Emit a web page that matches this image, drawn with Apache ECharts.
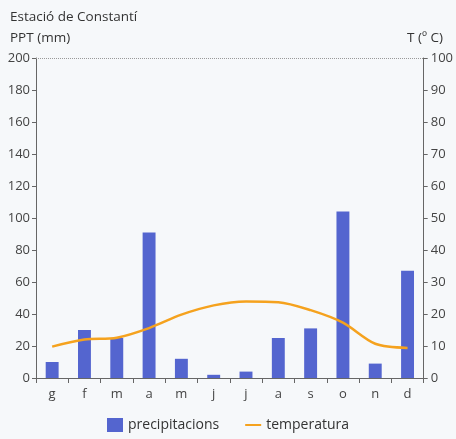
<!DOCTYPE html>
<html><head><meta charset="utf-8">
<script src="https://cdn.jsdelivr.net/npm/echarts@6/dist/echarts.min.js"></script>
<style>html,body{margin:0;padding:0;background:#f6f8fa}#c{width:456px;height:439px}</style>
</head><body><div id="c"></div>
<script>
const months = ['g','f','m','a','m','j','j','a','s','o','n','d'];
const precipitation = [10, 30, 25, 91, 12, 2, 4, 25, 31, 104, 9, 67];
const temperature = [9.8, 12, 12.6, 15.6, 19.8, 22.7, 23.9, 23.7, 21.2, 17.3, 10.7, 9.4];
const pptTicks = [0, 200, 20];
const tempTicks = [0, 100, 10];
const font = '"Open Sans", "Noto Sans", sans-serif';
const chart = echarts.init(document.getElementById('c'));
chart.setOption({
  backgroundColor: '#f6f8fa',
  animation: false,
  textStyle: {fontFamily: font},
  title: [
    {text: 'Estació de Constantí', left: 5, top: 5, textStyle: {fontSize: 13.5, fontWeight: 'normal', color: '#333', fontFamily: font}},
    {text: 'PPT (mm)', left: 5, top: 26, textStyle: {fontSize: 13.5, fontWeight: 'normal', color: '#333', fontFamily: font}},
    {text: 'T (º C)', right: 8, top: 26, textStyle: {fontSize: 13.5, fontWeight: 'normal', color: '#333', fontFamily: font}}
  ],
  legend: {
    bottom: 2, left: 'center', itemGap: 26, itemWidth: 16, itemHeight: 14,
    textStyle: {fontSize: 14, color: '#333', fontFamily: font},
    data: [{name: 'precipitacions', icon: 'rect'},
           {name: 'temperatura', icon: 'path://M0,0H20V2.5H0Z'}]
  },
  grid: {left: 36, right: 31, top: 58, bottom: 61},
  xAxis: {
    type: 'category', data: months,
    axisLine: {lineStyle: {color: '#666'}},
    axisTick: {show: true, length: 5, lineStyle: {color: '#666'}},
    axisLabel: {fontSize: 13, color: '#444', margin: 10}
  },
  yAxis: [
    {type: 'value', min: pptTicks[0], max: pptTicks[1], interval: pptTicks[2], position: 'left',
     axisLine: {show: true, lineStyle: {color: '#666'}},
     axisTick: {show: true, length: 4, lineStyle: {color: '#666'}},
     axisLabel: {fontSize: 13, color: '#444', margin: 6},
     splitLine: {show: false}},
    {type: 'value', min: tempTicks[0], max: tempTicks[1], interval: tempTicks[2], position: 'right',
     axisLine: {show: true, lineStyle: {color: '#666'}},
     axisTick: {show: true, length: 4, lineStyle: {color: '#666'}},
     axisLabel: {fontSize: 13, color: '#444', margin: 7},
     splitLine: {show: false}}
  ],
  series: [
    {name: 'precipitacions', type: 'bar', data: precipitation, barWidth: '40%',
     itemStyle: {color: '#5465cf'},
     markLine: {silent: true, symbol: 'none', label: {show: false},
       lineStyle: {type: 'dotted', color: '#999', width: 1},
       data: [{yAxis: pptTicks[1]}]}},
    {name: 'temperatura', type: 'line', yAxisIndex: 1, data: temperature, smooth: 0.3,
     showSymbol: false, symbol: 'none', lineStyle: {color: '#f5a21e', width: 2.5}, itemStyle: {color: '#f5a21e'}}
  ]
});
</script></body></html>
